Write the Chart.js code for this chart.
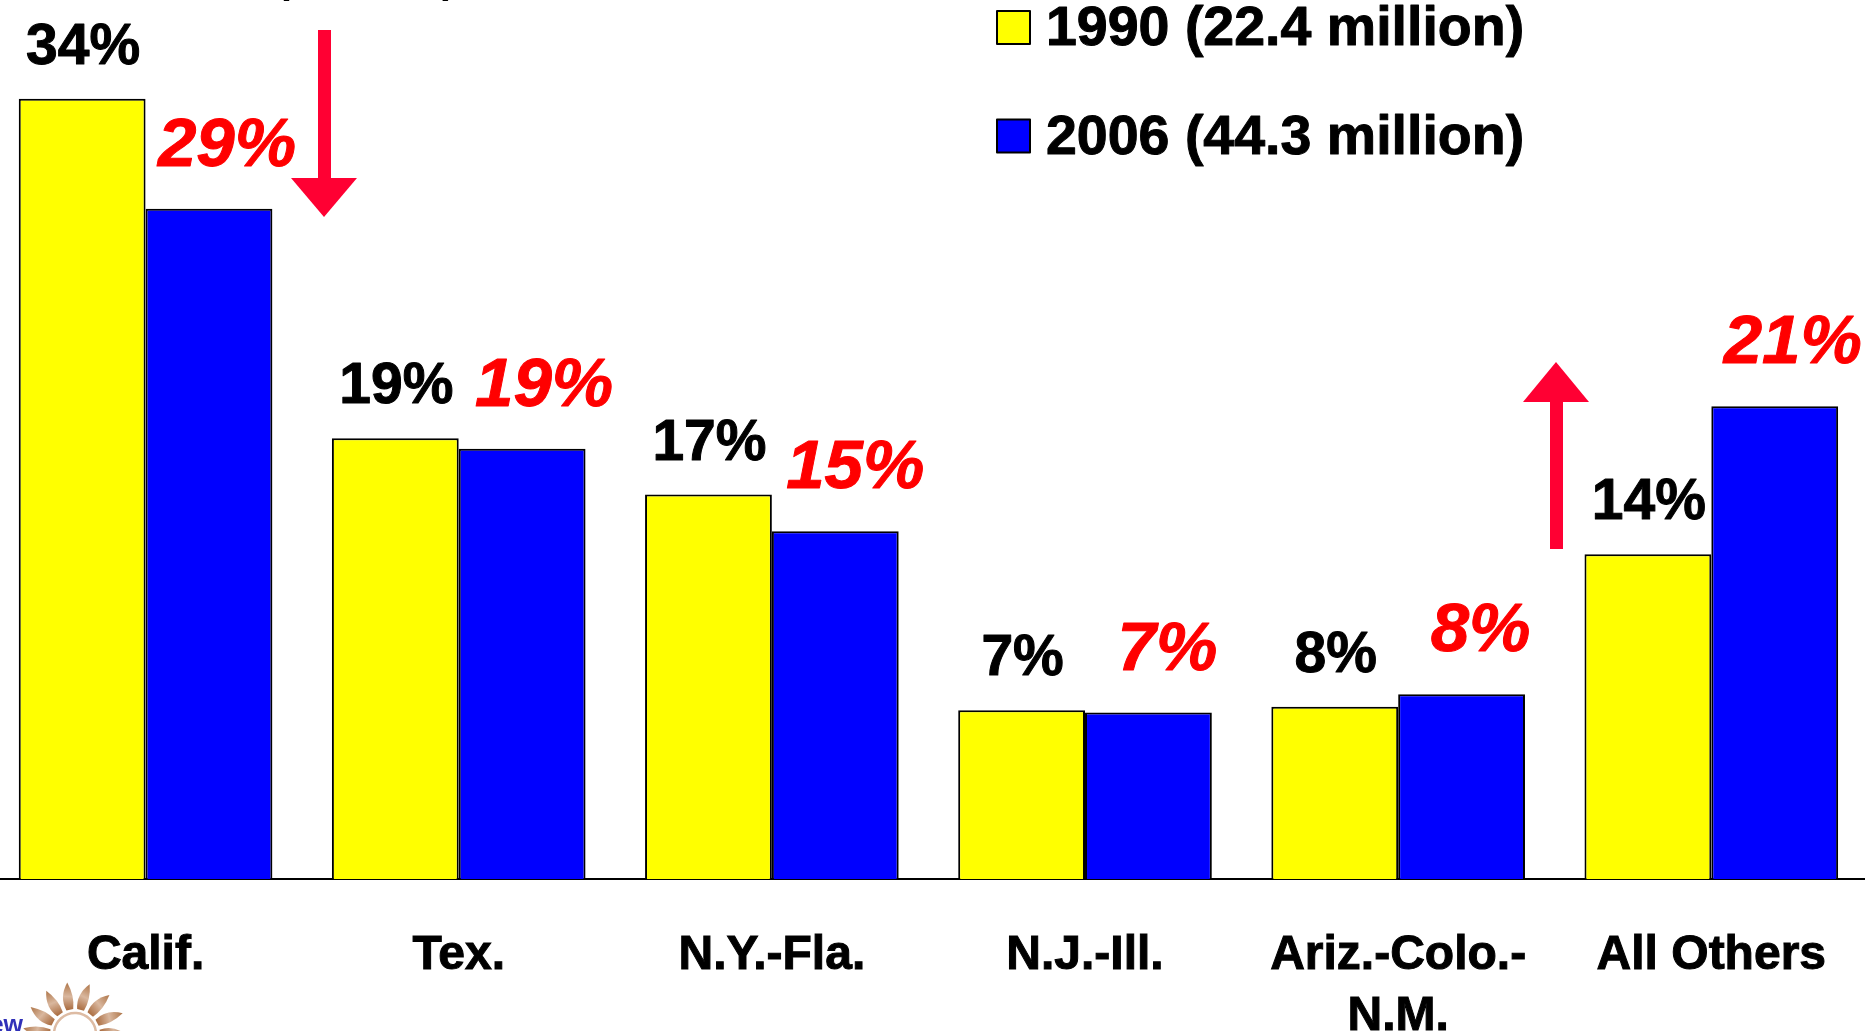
<!DOCTYPE html>
<html><head><meta charset="utf-8">
<style>html,body{margin:0;padding:0;background:#fff;overflow:hidden;width:1865px;height:1031px}
#wrap{position:absolute;left:-11px;top:0;width:1883px;height:1031px}
canvas{display:block}</style>
<script src="https://cdn.jsdelivr.net/npm/chart.js@4"></script>
</head><body><div id="wrap"><canvas id="c"></canvas></div>
<script>
const categories = ["Calif.", "Tex.", "N.Y.-Fla.", "N.J.-Ill.", ["Ariz.-Colo.-", "N.M."], "All Others"];
const values1990 = [34, 19.2, 16.75, 7.35, 7.5, 14.15];
const values2006 = [29.2, 18.75, 15.15, 7.25, 8.05, 20.6];
const labels1990 = ["34%", "19%", "17%", "7%", "8%", "14%"];
const labels2006 = ["29%", "19%", "15%", "7%", "8%", "21%"];
const seriesNames = ["1990 (22.4 million)", "2006 (44.3 million)"];
const redLabelShift = [18, 22, 20, 19, 19, 18];

const FONT = '"Liberation Sans", Arial, sans-serif';

function drawLabel(ctx, text, x, y, strokeW) {
  ctx.lineWidth = strokeW; ctx.lineJoin = 'round';
  ctx.strokeText(text, x, y); ctx.fillText(text, x, y);
}

function drawLogo(ctx) {
  const cx = 75, cy = 1034;
  ctx.save();
  for (let deg = -112; deg <= 112; deg += 25) {
    const a = deg * Math.PI / 180;
    const p = (r, da) => [cx + r * Math.sin(a + da), cy - r * Math.cos(a + da)];
    const b1 = p(25, -0.14), b2 = p(25, 0.14), t = p(52, 0.06), c1 = p(40, -0.20), c2 = p(38, 0.20);
    const g = ctx.createLinearGradient(b1[0], b1[1], t[0], t[1]);
    g.addColorStop(0, '#A8693C'); g.addColorStop(0.5, '#D9B79E'); g.addColorStop(1, '#AE7548');
    ctx.fillStyle = g;
    ctx.beginPath(); ctx.moveTo(b1[0], b1[1]);
    ctx.quadraticCurveTo(c1[0], c1[1], t[0], t[1]);
    ctx.quadraticCurveTo(c2[0], c2[1], b2[0], b2[1]);
    ctx.closePath(); ctx.fill();
  }
  ctx.strokeStyle = '#DDBBA3'; ctx.lineWidth = 2.5;
  ctx.beginPath(); ctx.arc(cx, cy, 21, -Math.PI * 0.98, -Math.PI * 0.02); ctx.stroke();
  ctx.restore();
  ctx.fillStyle = '#3030B8'; ctx.font = 'bold 25px ' + FONT;
  ctx.textAlign = 'right'; ctx.textBaseline = 'alphabetic';
  ctx.fillText('Pew', 23, 1033);
}

const overlay = {
  id: 'overlay',
  afterDatasetsDraw(chart) {
    const ctx = chart.ctx;
    ctx.save();
    ctx.textAlign = 'center';
    ctx.textBaseline = 'alphabetic';
    const m0 = chart.getDatasetMeta(0), m1 = chart.getDatasetMeta(1);
    ctx.font = 'bold 57px ' + FONT; ctx.fillStyle = '#000'; ctx.strokeStyle = '#000';
    m0.data.forEach((b, i) => drawLabel(ctx, labels1990[i], b.x + 1, b.y - 35, 1));
    ctx.font = 'italic bold 69px ' + FONT; ctx.fillStyle = '#FF0000'; ctx.strokeStyle = '#FF0000';
    m1.data.forEach((b, i) => drawLabel(ctx, labels2006[i], b.x + redLabelShift[i], b.y - 43, 1));

    // everything below is placed in page coordinates
    ctx.translate(11, 0);
    // legend
    ctx.textAlign = 'left'; ctx.textBaseline = 'middle';
    ctx.font = 'bold 55.5px ' + FONT;
    chart.data.datasets.forEach((d, i) => {
      const y = 11 + i * 108.5;
      ctx.fillStyle = d.backgroundColor; ctx.strokeStyle = '#000'; ctx.lineWidth = 2;
      ctx.fillRect(997, y, 33, 33); ctx.strokeRect(997, y, 33, 33);
      ctx.fillStyle = '#000'; ctx.strokeStyle = '#000';
      drawLabel(ctx, d.label, 1046, y + 19, 1);
    });
    // arrows
    ctx.fillStyle = '#FF0033';
    ctx.fillRect(318, 30, 13, 150);
    ctx.beginPath(); ctx.moveTo(291, 178); ctx.lineTo(357, 178); ctx.lineTo(324, 217); ctx.closePath(); ctx.fill();
    ctx.fillRect(1550, 400, 13, 149);
    ctx.beginPath(); ctx.moveTo(1523, 402); ctx.lineTo(1589, 402); ctx.lineTo(1556, 362); ctx.closePath(); ctx.fill();
    // tails of the cut-off line at the very top of the frame
    ctx.fillStyle = '#000'; ctx.textAlign = 'center'; ctx.textBaseline = 'alphabetic';
    ctx.font = 'bold 40px ' + FONT;
    ctx.fillText('(', 283, -7); ctx.fillText(')', 449, -7);
    drawLogo(ctx);
    ctx.restore();
  }
};

new Chart(document.getElementById('c'), {
  type: 'bar',
  data: {
    labels: categories,
    datasets: [
      { label: seriesNames[0], data: values1990, backgroundColor: '#FFFF00', borderColor: '#000', borderWidth: 2 },
      { label: seriesNames[1], data: values2006, backgroundColor: '#0000FF', borderColor: '#000', borderWidth: 2 }
    ]
  },
  options: {
    responsive: true, maintainAspectRatio: false, animation: false,
    layout: { padding: 0 },
    categoryPercentage: 0.81, barPercentage: 1,
    plugins: { legend: { display: false }, tooltip: { enabled: false }, title: { display: false } },
    scales: {
      x: {
        grid: { display: false, drawTicks: false },
        border: { color: '#000', width: 2 },
        ticks: { color: '#000', textStrokeColor: '#000', textStrokeWidth: 1, font: { family: FONT, size: 48, weight: 'bold', lineHeight: 1.27 }, maxRotation: 0, autoSkip: false, padding: 46 },
        afterFit(s) { s.height = 152; }
      },
      y: { display: false, min: 0, max: 38.3 }
    }
  },
  plugins: [overlay]
});
</script></body></html>
